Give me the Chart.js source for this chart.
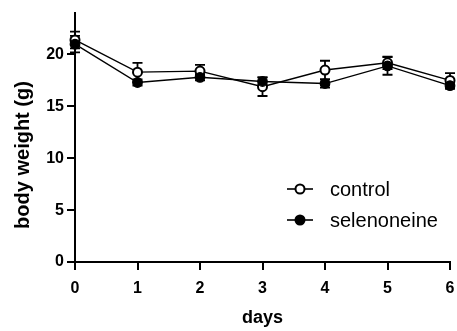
<!DOCTYPE html>
<html>
<head>
<meta charset="utf-8">
<script src="https://cdn.jsdelivr.net/npm/chart.js@4.4.1/dist/chart.umd.min.js"></script>
<style>
  html, body { margin: 0; padding: 0; background: #fff; }
  #wrap { width: 457px; height: 331px; }
</style>
</head>
<body>
<div id="wrap"><canvas id="c" width="457" height="331"></canvas></div>
<script>
// Body weight over the study period (mean ± SEM)
const days = [0, 1, 2, 3, 4, 5, 6];
const controlMean = [21.4, 18.3, 18.4, 16.9, 18.5, 19.2, 17.5];
const controlErr  = [0.8, 0.9, 0.6, 0.9, 0.9, 0.6, 0.7];
const selenMean   = [21.0, 17.3, 17.8, 17.4, 17.2, 18.9, 17.0];
const selenErr    = [0.8, 0.3, 0.3, 0.4, 0.4, 0.85, 0.3];
const yTicks = [0, 5, 10, 15, 20];
const seriesNames = ['control', 'selenoneine'];
const xTitle = 'days';
const yTitle = 'body weight (g)';

const FONT = "'Liberation Sans', Arial, sans-serif";

// Vertical error bars with caps, drawn under the markers
const errorBars = {
  id: 'errorBars',
  beforeDatasetsDraw(chart) {
    const ctx = chart.ctx;
    const x = chart.scales.x, y = chart.scales.y;
    ctx.save();
    ctx.strokeStyle = '#000';
    ctx.lineWidth = 1.8;
    chart.data.datasets.forEach(ds => {
      ds.data.forEach((p, i) => {
        const e = ds.errors[i];
        const px = x.getPixelForValue(p.x);
        const top = y.getPixelForValue(p.y + e);
        const bot = y.getPixelForValue(p.y - e);
        ctx.beginPath();
        ctx.moveTo(px, top); ctx.lineTo(px, bot);
        ctx.moveTo(px - 5, top); ctx.lineTo(px + 5, top);
        ctx.moveTo(px - 5, bot); ctx.lineTo(px + 5, bot);
        ctx.stroke();
      });
    });
    ctx.restore();
  }
};

// Rotated y-axis title, sitting a little below the middle of the axis
const yAxisTitle = {
  id: 'yAxisTitle',
  afterDraw(chart) {
    const ctx = chart.ctx;
    const a = chart.chartArea;
    ctx.save();
    ctx.translate(a.left - 52, a.top + 142);
    ctx.rotate(-Math.PI / 2);
    ctx.fillStyle = '#000';
    ctx.font = 'bold 20px ' + FONT;
    ctx.textAlign = 'center';
    ctx.textBaseline = 'middle';
    ctx.fillText(yTitle, 0, 0);
    ctx.restore();
  }
};

// Legend placed inside the plot, lower right
const insideLegend = {
  id: 'insideLegend',
  afterDraw(chart) {
    const ctx = chart.ctx;
    const a = chart.chartArea;
    const x0 = a.left + 212;
    const rows = [a.top + 176, a.top + 207];
    ctx.save();
    chart.data.datasets.forEach((ds, k) => {
      const ry = rows[k];
      ctx.strokeStyle = '#000';
      ctx.lineWidth = 1.6;
      ctx.beginPath();
      ctx.moveTo(x0, ry); ctx.lineTo(x0 + 26, ry);
      ctx.stroke();
      ctx.beginPath();
      ctx.arc(x0 + 13, ry, 4.5, 0, Math.PI * 2);
      ctx.fillStyle = ds.pointBackgroundColor;
      ctx.fill();
      ctx.lineWidth = 2;
      ctx.stroke();
      ctx.fillStyle = '#000';
      ctx.font = '20px ' + FONT;
      ctx.textBaseline = 'middle';
      ctx.textAlign = 'left';
      ctx.fillText(ds.label, x0 + 43, ry + 1);
    });
    ctx.restore();
  }
};

const toPts = arr => days.map((d, i) => ({ x: d, y: arr[i] }));

new Chart(document.getElementById('c'), {
  type: 'line',
  data: {
    datasets: [
      {
        label: seriesNames[0],
        data: toPts(controlMean),
        errors: controlErr,
        borderColor: '#000',
        borderWidth: 1.4,
        pointRadius: 4.5,
        pointBorderWidth: 2,
        pointBackgroundColor: '#fff',
        pointBorderColor: '#000',
        tension: 0,
        clip: false,
        order: 1
      },
      {
        label: seriesNames[1],
        data: toPts(selenMean),
        errors: selenErr,
        borderColor: '#000',
        borderWidth: 1.4,
        pointRadius: 4.8,
        pointBorderWidth: 1.2,
        pointBackgroundColor: '#000',
        pointBorderColor: '#000',
        tension: 0,
        clip: false,
        order: 0
      }
    ]
  },
  options: {
    responsive: false,
    animation: false,
    events: [],
    layout: { padding: { left: 0, top: 13, right: 7, bottom: 0 } },
    plugins: { legend: { display: false }, tooltip: { enabled: false } },
    scales: {
      x: {
        type: 'linear',
        min: 0, max: 6,
        afterFit(s) { s.height = 69; s.paddingLeft = 0; s.paddingRight = 0; },
        afterBuildTicks(s) { s.ticks = days.map(v => ({ value: v })); },
        border: { color: '#000', width: 2 },
        grid: { drawOnChartArea: false, drawTicks: true, tickLength: 8, color: '#000', lineWidth: 2 },
        ticks: { color: '#000', font: { family: FONT, size: 16, weight: 'bold' }, padding: 9 },
        title: { display: true, text: xTitle, color: '#000', font: { family: FONT, size: 18, weight: 'bold' }, padding: { top: 4, bottom: 2 } }
      },
      y: {
        type: 'linear',
        min: 0, max: 24,
        afterFit(s) { s.width = 75; s.paddingTop = 0; s.paddingBottom = 0; },
        afterBuildTicks(s) { s.ticks = yTicks.map(v => ({ value: v })); },
        border: { color: '#000', width: 2 },
        grid: { drawOnChartArea: false, drawTicks: true, tickLength: 8, color: '#000', lineWidth: 2 },
        ticks: { color: '#000', font: { family: FONT, size: 16, weight: 'bold' }, padding: 3 }
      }
    }
  },
  plugins: [errorBars, yAxisTitle, insideLegend]
});
</script>
</body>
</html>
